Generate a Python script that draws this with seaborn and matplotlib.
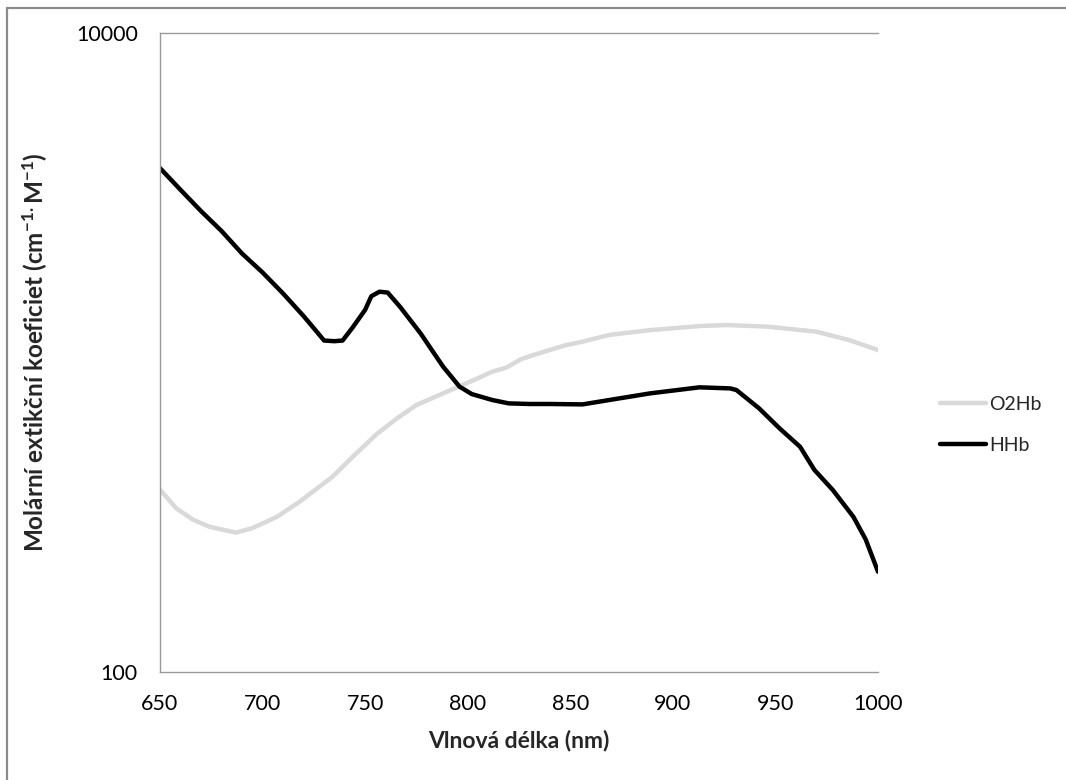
import numpy as np
import pandas as pd
import seaborn as sns
import matplotlib
matplotlib.use("Agg")
import matplotlib.pyplot as plt
from matplotlib.lines import Line2D

# Molar extinction coefficients of haemoglobin (cm-1 M-1)
hhb_wl = [650, 660, 670, 680, 690, 700, 710, 720, 726, 730, 735, 739, 744, 750,
          753, 757, 761, 767, 777, 788, 796, 802, 812, 820, 830, 840, 856, 869,
          889, 913, 928, 931, 942, 952, 962, 969, 978, 988, 994, 1000]
hhb_val = [3776, 3230, 2770, 2400, 2040, 1780, 1530, 1300, 1170, 1090, 1085, 1090,
           1200, 1360, 1500, 1550, 1540, 1390, 1148, 903, 782, 741, 710, 693, 690,
           690, 688, 710, 745, 778, 772, 763, 669, 579, 507, 429, 371, 306, 260, 206]

o2hb_wl = [650, 658, 666, 674, 687, 695, 707, 718, 734, 744, 756, 766, 775, 788,
           803, 812, 819, 826, 832, 848, 856, 869, 889, 913, 926, 946, 970, 986, 1000]
o2hb_val = [372, 325, 300, 285, 273, 282, 306, 341, 408, 472, 558, 625, 685, 745,
            820, 871, 898, 953, 982, 1055, 1081, 1135, 1175, 1210, 1219, 1205, 1162,
            1093, 1018]

series_names = ["O2Hb", "HHb"]
series_colors = ["#d9d9d9", "#000000"]

x_ticks = [650, 700, 750, 800, 850, 900, 950, 1000]
y_ticks = [100, 10000]

df = pd.concat([
    pd.DataFrame({"wl": o2hb_wl, "val": o2hb_val, "series": "O2Hb"}),
    pd.DataFrame({"wl": hhb_wl, "val": hhb_val, "series": "HHb"}),
], ignore_index=True)

sns.set_style("white")
plt.rcParams["font.family"] = ["Lato", "DejaVu Sans"]
plt.rcParams["mathtext.fontset"] = "custom"
plt.rcParams["mathtext.rm"] = "Lato"
plt.rcParams["mathtext.bf"] = "Lato:bold"
plt.rcParams["mathtext.default"] = "regular"

fig = plt.figure(figsize=(10.66, 7.8), dpi=100)
ax = fig.add_axes([160 / 1066, 1 - 672 / 780, 718 / 1066, 639 / 780])

sns.lineplot(data=df, x="wl", y="val", hue="series", hue_order=series_names,
             palette=series_colors, linewidth=3.2, ax=ax, sort=True,
             estimator=None)

ax.set_yscale("log")
ax.set_xlim(650, 1000)
ax.set_ylim(100, 10000)
ax.set_xticks(x_ticks)
ax.set_xticklabels([str(t) for t in x_ticks])
ax.set_yticks(y_ticks)
ax.set_yticklabels([str(t) for t in y_ticks])
ax.yaxis.set_minor_locator(matplotlib.ticker.NullLocator())
ax.tick_params(axis="both", length=0, labelsize=15.5, colors="#000000")
ax.tick_params(axis="x", pad=16)
ax.tick_params(axis="y", pad=16)

for side in ["left", "bottom", "top"]:
    ax.spines[side].set_color("#9a9a9a")
    ax.spines[side].set_linewidth(1.0)
ax.spines["right"].set_visible(False)

ax.set_xlabel("Vlnová délka (nm)", fontsize=16.5, fontweight="bold")
ax.xaxis.set_label_coords(0.5, -0.09)
ax.set_ylabel(r"Molární extikční koeficiet (cm$^{-1.}$M$^{-1}$)",
              fontsize=17.5, fontweight="bold")
ax.yaxis.set_label_coords(-0.153, 0.5)

handles = [Line2D([0], [0], color=c, linewidth=3.2) for c in series_colors]
ax.legend(handles, series_names, loc="center left",
          bbox_to_anchor=(1.086, 0.3865), frameon=False, fontsize=14,
          handlelength=2.4, handletextpad=0.15, labelspacing=1.25,
          borderpad=0, borderaxespad=0)

# outer chart frame (top and left edges)
fig.add_artist(Line2D([7 / 1066, 1], [1 - 8 / 780, 1 - 8 / 780],
                      transform=fig.transFigure, color="#8c8c8c", linewidth=1.6))
fig.add_artist(Line2D([7 / 1066, 7 / 1066], [0, 1 - 8 / 780],
                      transform=fig.transFigure, color="#8c8c8c", linewidth=1.6))

fig.savefig("out.png", dpi=100, facecolor="white")
